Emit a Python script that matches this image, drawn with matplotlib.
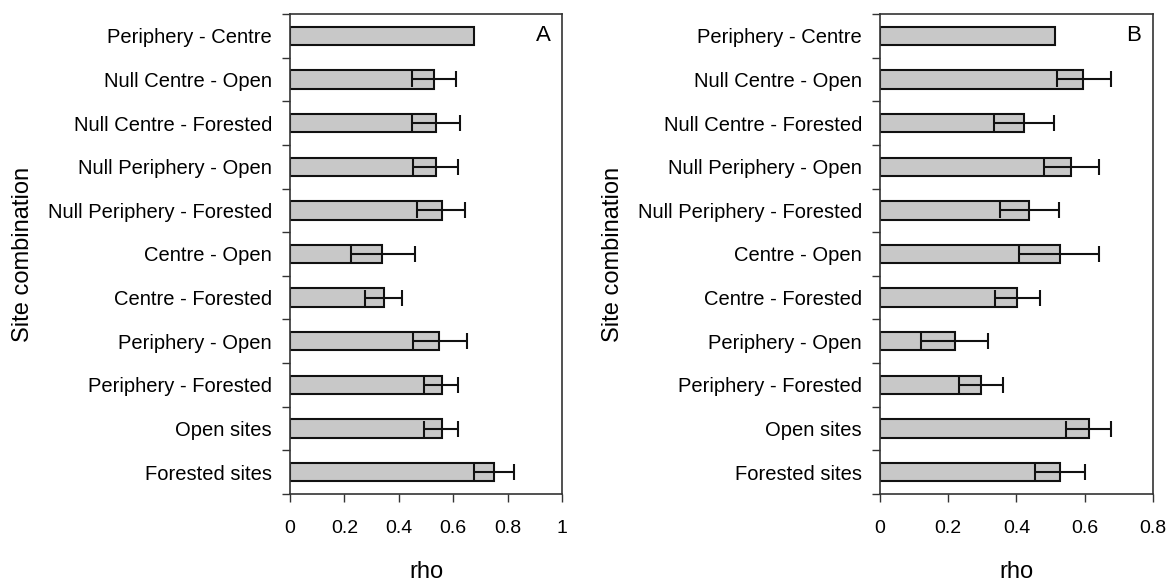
import matplotlib.pyplot as plt
import numpy as np

plt.rcParams['font.family'] = ['Liberation Sans', 'DejaVu Sans']

# categories, top to bottom
categories = ['Periphery - Centre', 'Null Centre - Open', 'Null Centre - Forested',
              'Null Periphery - Open', 'Null Periphery - Forested', 'Centre - Open',
              'Centre - Forested', 'Periphery - Open', 'Periphery - Forested',
              'Open sites', 'Forested sites']

# panel A: rho with lower / upper bounds (None = no error bar)
rho_a = [0.678, 0.528, 0.538, 0.538, 0.558, 0.339, 0.344, 0.548, 0.558, 0.558, 0.749]
low_a = [None, 0.450, 0.450, 0.453, 0.467, 0.223, 0.277, 0.451, 0.494, 0.494, 0.676]
high_a = [None, 0.610, 0.625, 0.619, 0.645, 0.461, 0.412, 0.652, 0.619, 0.619, 0.825]

# panel B
rho_b = [0.512, 0.596, 0.421, 0.560, 0.438, 0.527, 0.403, 0.220, 0.297, 0.613, 0.527]
low_b = [None, 0.519, 0.333, 0.481, 0.352, 0.407, 0.338, 0.120, 0.233, 0.545, 0.454]
high_b = [None, 0.678, 0.509, 0.642, 0.524, 0.642, 0.469, 0.318, 0.361, 0.678, 0.600]

xticks_a = [0, 0.2, 0.4, 0.6, 0.8, 1]
xticks_b = [0, 0.2, 0.4, 0.6, 0.8]


def draw_panel(ax, rho, low, high, xticks, letter):
    n = len(categories)
    y = np.arange(n)[::-1] + 0.5
    ax.barh(y, rho, height=0.42, color='#c8c8c8', edgecolor='#111111', linewidth=1.5)
    for yi, r, lo, hi in zip(y, rho, low, high):
        if lo is None:
            continue
        ax.errorbar(r, yi, xerr=[[r - lo], [hi - r]], fmt='none', ecolor='#111111',
                    elinewidth=1.5, capsize=5.5, capthick=1.5)
    ax.set_ylim(0, n)
    ax.set_xlim(xticks[0], xticks[-1])
    ax.set_xticks(xticks)
    ax.set_xticklabels([f'{t:g}' for t in xticks], fontsize=14)
    ax.set_yticks(y)
    ax.set_yticklabels(categories, fontsize=14.5)
    ax.tick_params(axis='y', which='major', length=0, pad=13)
    ax.set_yticks(np.arange(n + 1), minor=True)
    ax.tick_params(axis='y', which='minor', length=6, width=1, color='#333333')
    ax.tick_params(axis='x', length=6, width=1, color='#333333', pad=13)
    for s in ax.spines.values():
        s.set_color('#333333')
        s.set_linewidth(1.2)
    ax.set_xlabel('rho', fontsize=17, labelpad=17)
    ax.set_ylabel('Site combination', fontsize=17, labelpad=10)
    ax.text(0.93, 0.955, letter, transform=ax.transAxes, fontsize=16,
            ha='center', va='center')


fig = plt.figure(figsize=(11.73, 5.83), dpi=100)
ax_a = fig.add_axes([0.2472, 0.1527, 0.2319, 0.8233])
ax_b = fig.add_axes([0.7502, 0.1527, 0.2327, 0.8233])

draw_panel(ax_a, rho_a, low_a, high_a, xticks_a, 'A')
draw_panel(ax_b, rho_b, low_b, high_b, xticks_b, 'B')

fig.savefig('out.png', dpi=100)
